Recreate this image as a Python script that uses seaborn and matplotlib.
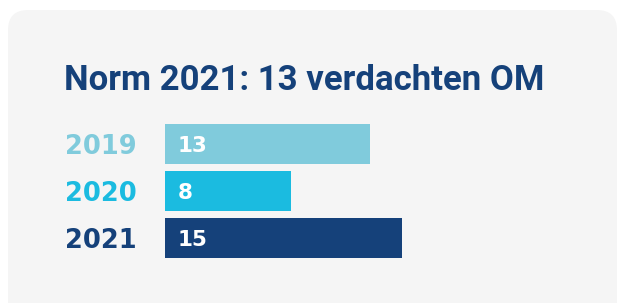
import matplotlib
matplotlib.use("Agg")
import matplotlib.pyplot as plt
import matplotlib.transforms as mtransforms
from matplotlib.patches import FancyBboxPatch
import seaborn as sns
import pandas as pd

# =====================================================
# DATA
# =====================================================

years = ["2019", "2020", "2021"]
counts = [13, 8, 15]
colors = ["#80cbdc", "#1bbbe0", "#15417a"]
title = "Norm 2021: 13 verdachten OM"

df = pd.DataFrame({"year": years, "count": counts})

# =====================================================
# SETTINGS
# =====================================================

sns.set_theme(style="white")
plt.rcParams["font.family"] = ["Roboto", "DejaVu Sans"]

W, H = 618, 303
fig = plt.figure(figsize=(W / 100, H / 100), dpi=100, facecolor="white")

# light grey rounded card (in inches)
card = FancyBboxPatch(
    (0.08, -0.3), 6.09, 3.23,
    boxstyle="round,pad=0,rounding_size=0.2",
    transform=fig.dpi_scale_trans,
    facecolor="#f5f5f5", edgecolor="none", zorder=-1
)
fig.patches.append(card)

# axes placement: bars start at x=165 px, ~15.8 px per unit
ax_left, ax_w = 165, 300
ax_top, ax_h = 120.5, 141
ax = fig.add_axes([ax_left / W, (H - ax_top - ax_h) / H, ax_w / W, ax_h / H])
ax.set_facecolor("none")
ax.set_zorder(2)

sns.barplot(
    data=df, x="count", y="year", hue="year",
    palette=colors, orient="h", width=0.85,
    legend=False, ax=ax, saturation=1, linewidth=0
)

ax.set_xlim(0, ax_w / 15.8)
ax.set_ylim(2.5, -0.5)
ax.axis("off")

# value labels inside bars
for i, v in enumerate(counts):
    ax.text(
        0.8, i + 0.04, str(v),
        color="white", fontsize=15.5, fontweight="bold",
        family=["DejaVu Sans"],
        ha="left", va="center"
    )

# year labels on the left
trans = mtransforms.blended_transform_factory(fig.transFigure, ax.transData)
for i, (y, c) in enumerate(zip(years, colors)):
    ax.text(
        65 / W, i + 0.06, y,
        transform=trans, color=c, fontsize=18.5, fontweight="bold",
        family=["DejaVu Sans"],
        ha="left", va="center", clip_on=False
    )

# title
fig.text(
    64 / W, 1 - 80 / H, title,
    color="#15417a", fontsize=25, fontweight="bold",
    ha="left", va="center"
)

fig.savefig("out.png", dpi=100, facecolor="white")
